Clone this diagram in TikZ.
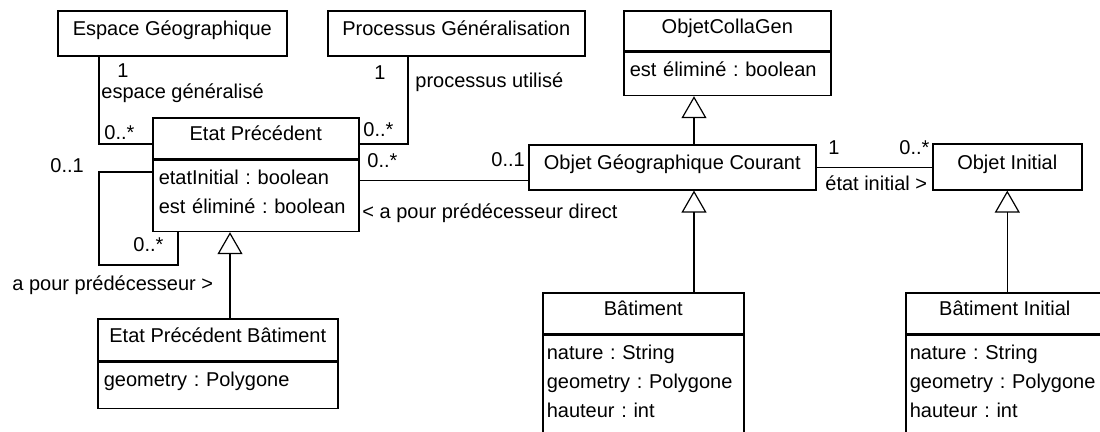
\documentclass[tikz,border=0pt]{standalone}
\usepackage{fontspec}
\setmainfont{Liberation Sans}
\usepackage{tikz}
\usetikzlibrary{arrows.meta,calc}
\usetikzlibrary{positioning}
\frenchspacing
\hyphenpenalty=10000
\tikzset{classname/.style={draw, line width=0.8pt, anchor=north west, inner sep=0pt,
    text height=7.5pt, text depth=5pt},
  classattr/.style={draw, line width=0.8pt, align=left, inner xsep=3pt, inner ysep=4.5pt,
    text height=7.5pt},
  assoc/.style={line width=0.6pt},
  inherit/.style={line width=0.6pt, -{Triangle[open,width=12.5pt,length=11pt]}},
  mult/.style={anchor=base west, inner sep=0pt}
}

\begin{document}
\begin{tikzpicture}[x=0.5pt, y=-0.5pt, font=\fontsize{10}{14.5}\selectfont]
    \useasboundingbox (0,0) rectangle (1100,432);
    \clip (0,0) rectangle (1100,432);

    % classes
    \node[classname, minimum width=114.5pt, minimum height=22.5pt] (espace)    at (57,10)   {Espace Géographique};
    \node[classname, minimum width=128.5pt, minimum height=22.5pt] (processus) at (327,10)  {Processus Généralisation};
    \node[classname, minimum width=103.5pt, minimum height=20pt]   (collagen)  at (623,10)  {ObjetCollaGen};
    \node[classattr, below=0pt of collagen, text width=97.5pt, text depth=5pt] (collagen_att) {est éliminé : boolean};
    \node[classname, minimum width=103pt, minimum height=20.5pt]   (etat)      at (152,117) {Etat Précédent};
    \node[classattr, below=0pt of etat, text width=97pt, text depth=19pt] (etat_att) {etatInitial : boolean\\est éliminé : boolean};
    \node[classname, minimum width=143.5pt, minimum height=22.5pt] (courant)   at (528,144) {Objet Géographique Courant};
    \node[classname, minimum width=74.5pt, minimum height=23pt]    (initial)   at (932,143) {Objet Initial};
    \node[classname, minimum width=120pt, minimum height=21pt]     (etatbat)   at (97,318)  {Etat Précédent Bâtiment};
    \node[classattr, below=0pt of etatbat, text width=114pt, text depth=6.5pt] (etatbat_att) {geometry : Polygone};
    \node[classname, minimum width=100.5pt, minimum height=20.5pt] (bat)       at (542,292) {Bâtiment};
    \node[classattr, below=0pt of bat, inner xsep=2pt, text width=96.5pt, text depth=50pt] (bat_att) {nature : String\\geometry : Polygone\\hauteur : int};
    \node[classname, minimum width=99pt, minimum height=20.5pt]    (batinit)   at (905,292) {Bâtiment Initial};
    \node[classattr, below=0pt of batinit, inner xsep=2pt, text width=95pt, text depth=50pt] (batinit_att) {nature : String\\geometry : Polygone\\hauteur : int};

    % associations
    \draw[assoc] ($(espace.south west)+(42,0)$) |- ($(etat.north west)+(0,27)$);
    \draw[assoc] ($(processus.south west)+(81,0)$) |- ($(etat.north east)+(0,27)$);
    \draw[assoc] ($(etat.north west)+(0,55)$) -- ++(-53,0) -- ++(0,93) -| ($(etat_att.south west)+(26,0)$);
    \draw[assoc] ($(etat_att.north east)+(0,21)$) coordinate (pd) -- (pd -| courant.west);
    \draw[assoc] (courant.east) -- (courant.east -| initial.west);

    % generalisations
    \draw[inherit] ($(courant.north west)+(166,0)$) coordinate (g1) -- (g1 |- collagen_att.south);
    \draw[inherit] (bat.north -| g1) -- (g1 |- courant.south);
    \draw[inherit] (batinit.north -| initial.south) -- (initial.south);
    \draw[inherit] ($(etatbat.north west)+(133,0)$) coordinate (g2) -- (g2 |- etat_att.south);

    % roles and multiplicities
    \node[mult] (m_esp1)  at (117,78)  {1};
    \node[mult] (r_esp)   at (101,99)  {espace généralisé};
    \node[mult] (m_esp2)  at (104,140) {0..*};
    \node[mult] (m_proc1) at (374,80)  {1};
    \node[mult] (r_proc)  at (415,88)  {processus utilisé};
    \node[mult] (m_proc2) at (363,137) {0..*};
    \node[mult] (m_pred1) at (50,173)  {0..1};
    \node[mult] (m_pred2) at (133,252) {0..*};
    \node[mult] (r_pred)  at (12,291)  {a pour prédécesseur >};
    \node[mult] (m_dir1)  at (367,168) {0..*};
    \node[mult] (m_dir2)  at (491,167) {0..1};
    \node[mult] (r_dir)   at (362,219) {< a pour prédécesseur direct};
    \node[mult] (m_init1) at (828,155) {1};
    \node[mult] (m_init2) at (899,155) {0..*};
    \node[mult] (r_init)  at (825,191) {état initial >};
\end{tikzpicture}
\end{document}
